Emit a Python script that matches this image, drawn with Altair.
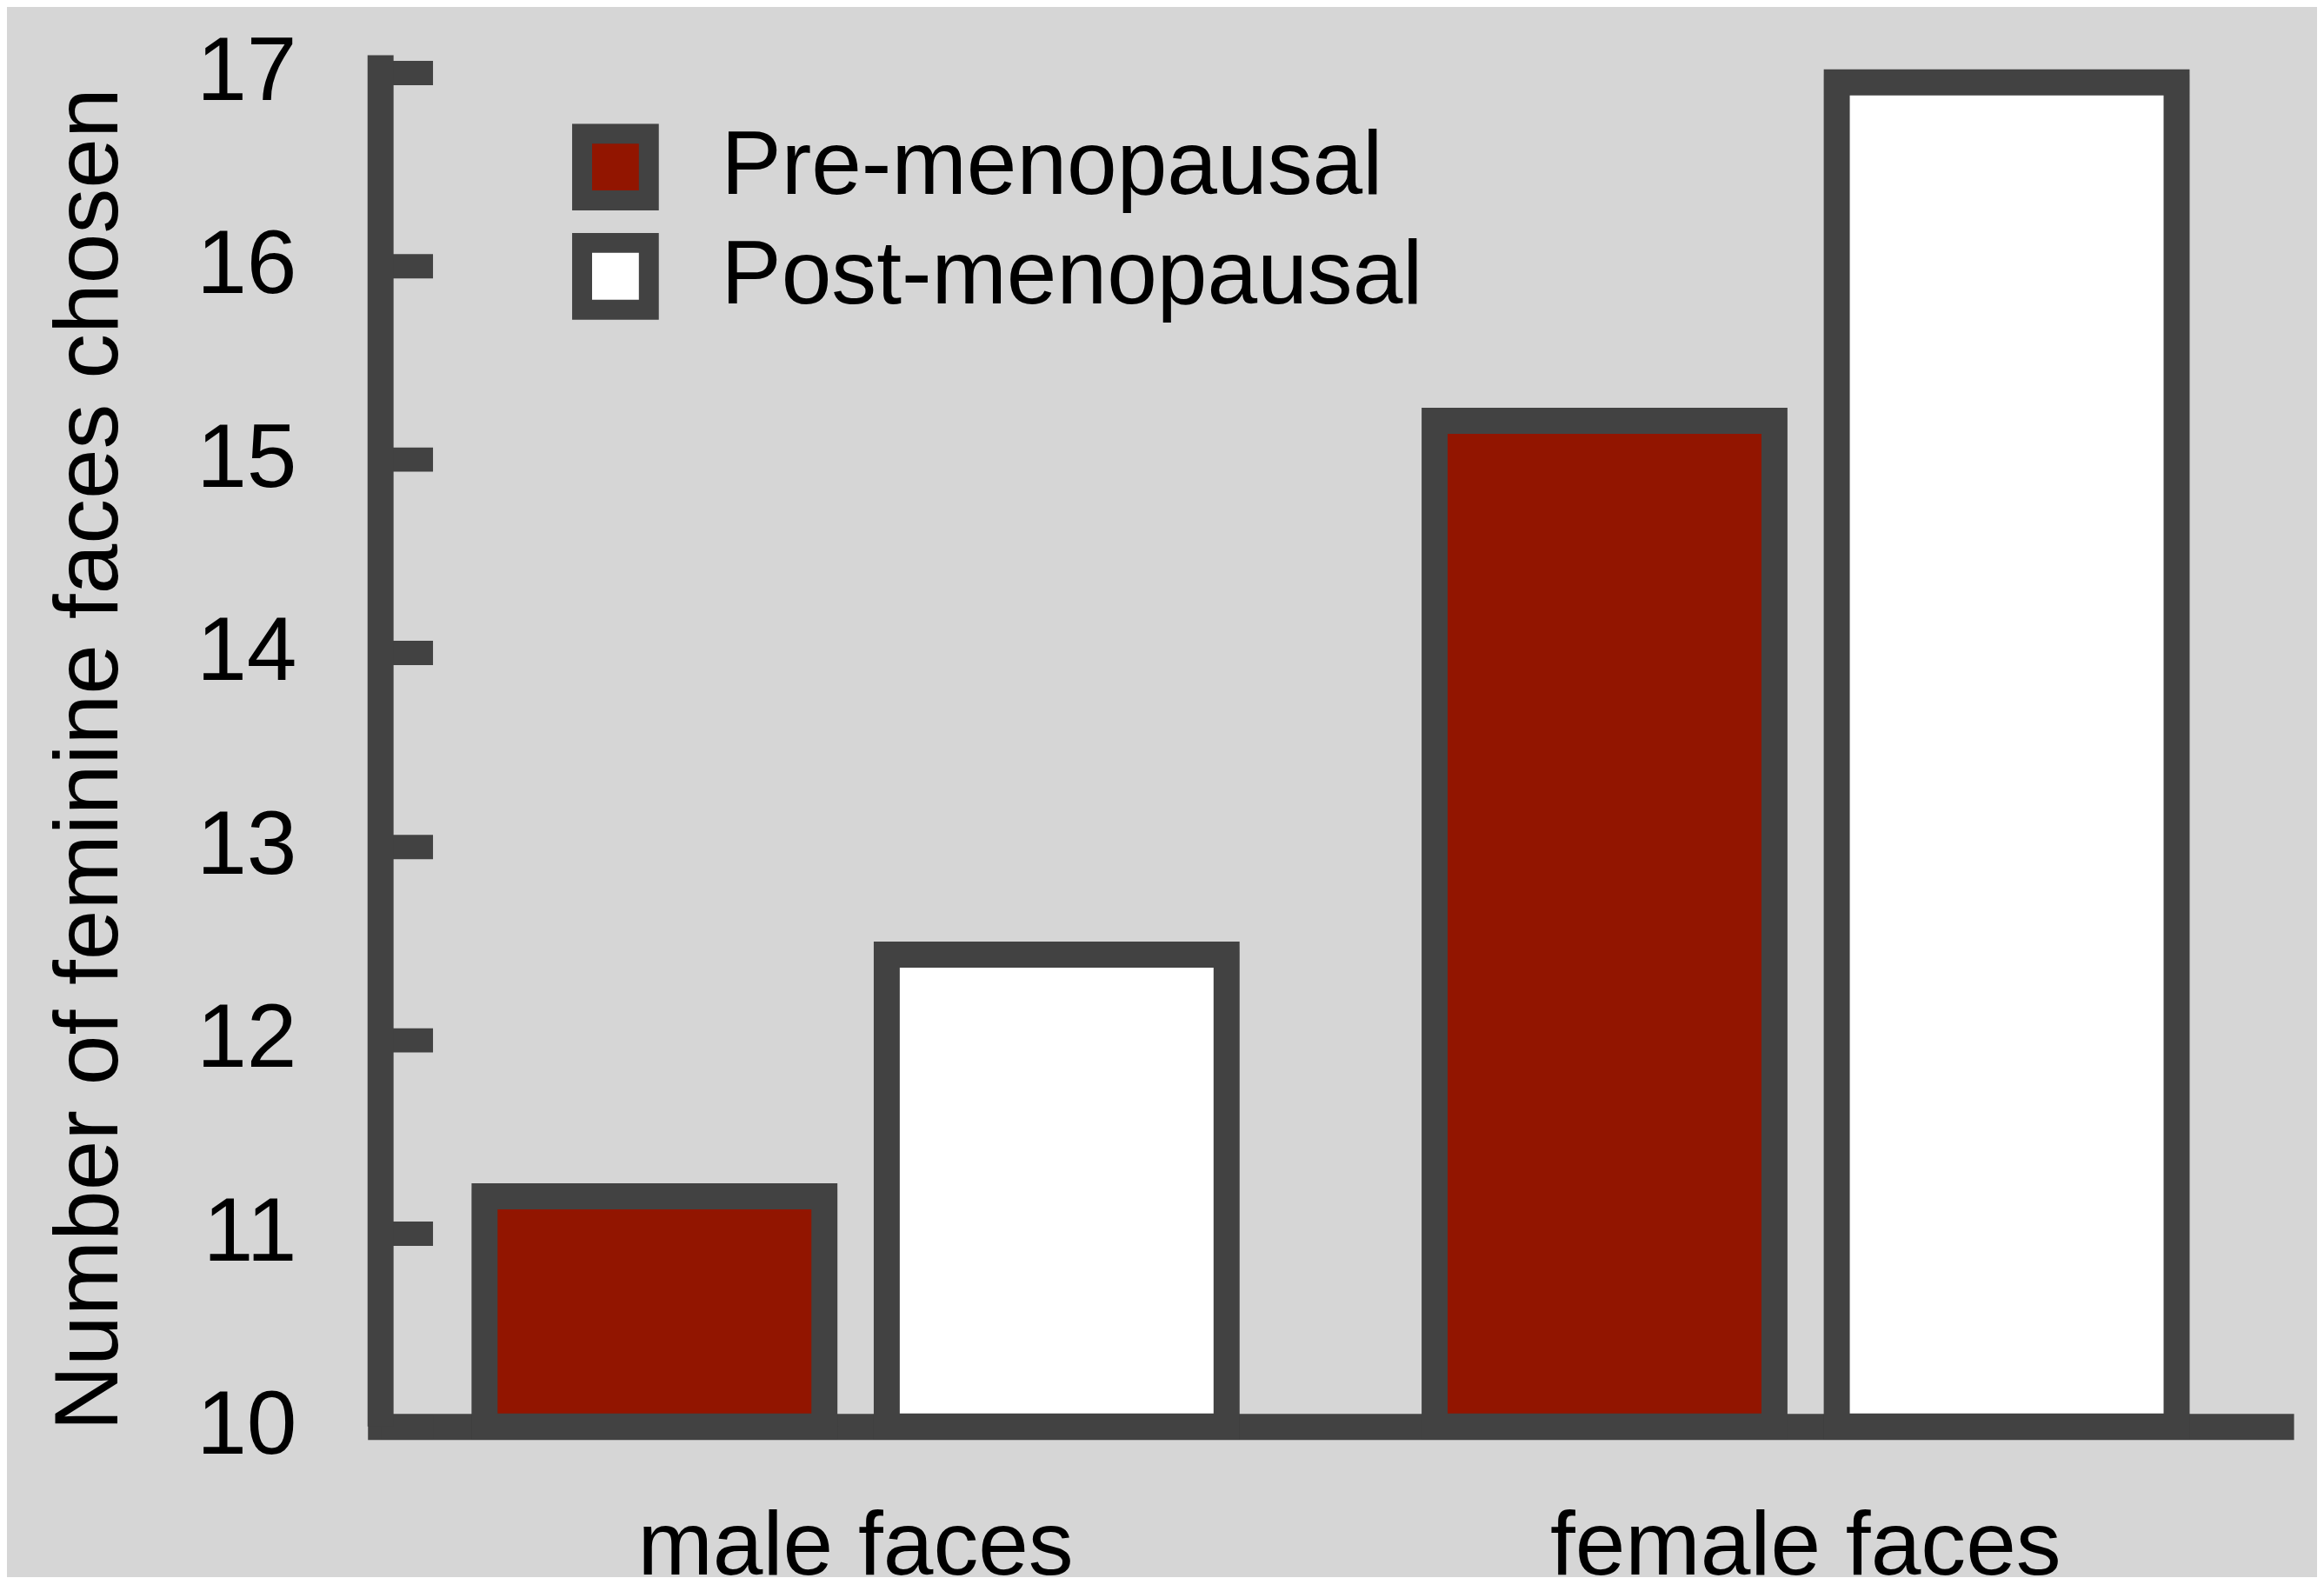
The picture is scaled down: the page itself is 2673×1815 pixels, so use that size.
import altair as alt
import pandas as pd

# ---- data ----
face_type = ["male faces", "male faces", "female faces", "female faces"]
group = ["Pre-menopausal", "Post-menopausal", "Pre-menopausal", "Post-menopausal"]
n_feminine = [11.19, 12.44, 15.20, 16.95]

categories = ["male faces", "female faces"]
groups_order = ["Pre-menopausal", "Post-menopausal"]
fill_colors = ["#921500", "#ffffff"]
y_ticks = [10, 11, 12, 13, 14, 15, 16, 17]

df = pd.DataFrame({"face": face_type, "group": group, "value": n_feminine})
axis_df = pd.DataFrame({"lo": [10], "hi": [17.09]})

DARK = "#424242"
FONT = "Liberation Sans"
W, H = 2192, 1582

x_enc = alt.X(
    "face:N",
    sort=categories,
    scale=alt.Scale(paddingInner=0.219, paddingOuter=0.1095),
    axis=alt.Axis(
        title=None, ticks=False, labelAngle=0, labelFont=FONT, labelFontSize=104,
        labelColor="#000000", labelPadding=170, labelBaseline="alphabetic",
        labelLimit=2000,
        domain=True, domainColor=DARK, domainWidth=30, domainCap="square",
    ),
)
xoff_enc = alt.XOffset("group:N", sort=groups_order,
                       scale=alt.Scale(paddingInner=0.155, paddingOuter=0))
y_scale = alt.Scale(domain=[10, 17.09], nice=False, zero=False)

y_axis = alt.Axis(
    values=y_ticks, title="Number of feminine faces chosen", domain=False,
    grid=False, offset=-60, tickSize=60, tickWidth=28, tickColor=DARK,
    tickCap="butt", labelFont=FONT, labelFontSize=104, labelColor="#000000",
    labelPadding=97, labelBaseline="middle",
    titleFont=FONT, titleFontSize=104, titleFontWeight="normal",
    titleColor="#000000", titleAngle=270, titleBaseline="alphabetic",
    titleAlign="center", titleX=-364, titleY=812,
)


def shadow_layer(off, op):
    return alt.Chart(df).mark_bar(
        color="#000000", opacity=op, stroke="#000000", strokeWidth=30,
        xOffset=off, yOffset=off,
    ).encode(
        x=x_enc, xOffset=xoff_enc,
        y=alt.Y("value:Q", scale=y_scale, axis=y_axis),
        y2=alt.datum(10),
    )


shadow1 = shadow_layer(12, 0.05)
shadow2 = shadow_layer(6, 0.09)

bars = alt.Chart(df).mark_bar(
    stroke=DARK, strokeWidth=30, strokeJoin="miter",
).encode(
    x=x_enc, xOffset=xoff_enc,
    y=alt.Y("value:Q", scale=y_scale, axis=y_axis),
    y2=alt.datum(10),
    fill=alt.Fill(
        "group:N",
        scale=alt.Scale(domain=groups_order, range=fill_colors),
        legend=alt.Legend(
            title=None, orient="none", legendX=219, legendY=79,
            symbolType="square", symbolSize=5929, symbolStrokeWidth=23,
            symbolStrokeColor=DARK, symbolOpacity=1,
            labelFont=FONT, labelFontSize=104, labelColor="#000000",
            labelOffset=70, rowPadding=22, clipHeight=100, padding=0,
            labelLimit=1000,
        ),
    ),
)

yline = alt.Chart(axis_df).mark_rule(
    color=DARK, strokeWidth=30, strokeCap="butt",
).encode(
    x=alt.value(0),
    y=alt.Y("lo:Q", scale=y_scale, axis=y_axis),
    y2="hi:Q",
)

chart = alt.layer(shadow1, shadow2, yline, bars).properties(
    width=W, height=H,
    autosize=alt.AutoSizeParams(type="none"),
    padding={"left": 431, "top": 53, "right": 42, "bottom": 171},
    background="#d6d6d6",
).configure_view(stroke=None)

chart.save("out.html", embed_options={"renderer": "svg", "actions": False})
